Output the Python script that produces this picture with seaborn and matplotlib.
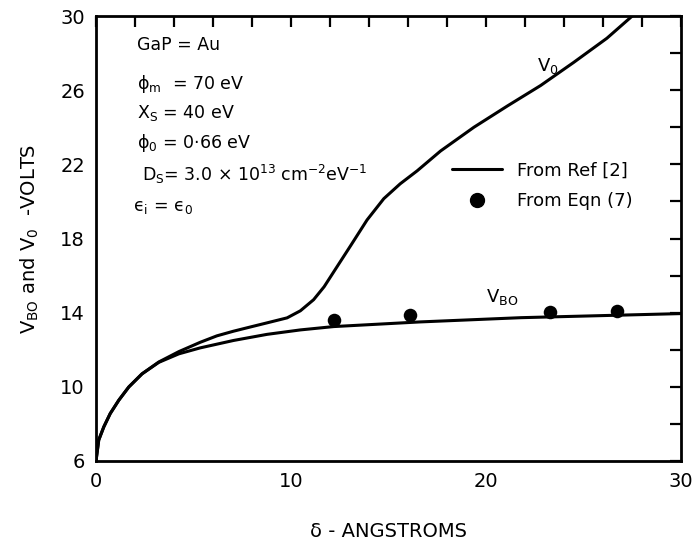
import numpy as np
import pandas as pd
import matplotlib
matplotlib.use("Agg")
import matplotlib.pyplot as plt
from matplotlib.ticker import MultipleLocator
from matplotlib.lines import Line2D
import seaborn as sns

# curve values (delta in Angstroms, volts)
v0_delta = [0.0, 0.14, 0.4, 0.73, 1.17, 1.68, 2.36, 3.22, 4.25, 5.34, 6.2,
            7.05, 8.0, 8.77, 9.8, 10.48, 11.16, 11.7, 12.19, 13.05, 13.9,
            14.76, 15.6, 16.47, 17.67, 19.38, 21.1, 22.8, 24.5, 26.2, 27.5]
v0_volts = [6.0, 7.13, 7.84, 8.56, 9.28, 9.99, 10.7, 11.34, 11.9, 12.4,
            12.75, 13.0, 13.25, 13.45, 13.72, 14.1, 14.7, 15.4, 16.2, 17.6,
            19.0, 20.15, 20.95, 21.65, 22.72, 24.0, 25.15, 26.25, 27.5, 28.8,
            30.0]

vbo_delta = [0.0, 0.14, 0.4, 0.73, 1.17, 1.68, 2.36, 3.22, 4.25, 5.34, 7.05,
             8.77, 10.48, 12.19, 16.6, 21.8, 30.0]
vbo_volts = [6.0, 7.13, 7.84, 8.56, 9.28, 9.99, 10.7, 11.32, 11.78, 12.1,
             12.5, 12.83, 13.07, 13.25, 13.5, 13.73, 13.95]

eqn_delta = [12.2, 16.1, 23.3, 26.7]
eqn_volts = [13.62, 13.9, 14.03, 14.08]

sns.set_style("white")
plt.rcParams['font.family'] = ['DejaVu Sans']
plt.rcParams['mathtext.default'] = 'regular'
plt.rcParams['text.color'] = 'black'
plt.rcParams['axes.labelcolor'] = 'black'
plt.rcParams['xtick.color'] = 'black'
plt.rcParams['ytick.color'] = 'black'

fig = plt.figure(figsize=(6.94, 5.40), dpi=100)
ax = fig.add_axes([96 / 694, 79 / 540, 585 / 694, 445 / 540])

v0 = pd.DataFrame({"delta": v0_delta, "volts": v0_volts})
vbo = pd.DataFrame({"delta": vbo_delta, "volts": vbo_volts})
eqn = pd.DataFrame({"delta": eqn_delta, "volts": eqn_volts})

sns.lineplot(data=v0, x="delta", y="volts", ax=ax, color="black", lw=2.2,
             sort=False, estimator=None)
sns.lineplot(data=vbo, x="delta", y="volts", ax=ax, color="black", lw=2.2,
             sort=False, estimator=None)
sns.scatterplot(data=eqn, x="delta", y="volts", ax=ax, color="black", s=95,
                edgecolor="black", linewidth=0, zorder=5)

ax.set_xlim(0, 30)
ax.set_ylim(6, 30)
ax.set_xticks([0, 10, 20, 30])
ax.xaxis.set_minor_locator(MultipleLocator(2))
ax.set_yticks([6, 10, 14, 18, 22, 26, 30])
ax.yaxis.set_minor_locator(MultipleLocator(2))
ax.tick_params(which="both", direction="in", top=True, right=True,
               width=1.6, color="black")
ax.tick_params(which="major", length=8, labelsize=14, pad=8)
ax.tick_params(which="minor", length=8)
for s in ax.spines.values():
    s.set_linewidth(2.0)
    s.set_color("black")

ax.set_xlabel("δ - ANGSTROMS", fontsize=14, labelpad=22)
ax.set_ylabel("V$_{BO}$ and V$_0$  -VOLTS", fontsize=14, labelpad=14)

# parameter block
fs = 12.5
ax.text(0.07, 0.935, "GaP = Au", transform=ax.transAxes, fontsize=fs, va="center")
ax.text(0.07, 0.847, "ϕ$_m$  = 70 eV", transform=ax.transAxes, fontsize=fs, va="center")
ax.text(0.07, 0.782, "X$_S$ = 40 eV", transform=ax.transAxes, fontsize=fs, va="center")
ax.text(0.07, 0.715, "ϕ$_0$ = 0·66 eV", transform=ax.transAxes, fontsize=fs, va="center")
ax.text(0.078, 0.643, "D$_S$= 3.0 × 10$^{13}$ cm$^{-2}$eV$^{-1}$",
        transform=ax.transAxes, fontsize=fs, va="center")
ax.text(0.063, 0.571, "ϵ$_i$ = ϵ$_0$", transform=ax.transAxes, fontsize=fs, va="center")

# curve labels
ax.text(22.6, 27.3, "V$_0$", fontsize=13, va="center")
ax.text(20.0, 14.85, "V$_{BO}$", fontsize=13, va="center")

handles = [Line2D([], [], color="black", lw=2.2),
           Line2D([], [], color="black", marker="o", ls="none", markersize=10)]
ax.legend(handles, ["From Ref [2]", "From Eqn (7)"], frameon=False,
          fontsize=13, loc="upper left", bbox_to_anchor=(0.58, 0.71),
          handlelength=2.8, handletextpad=0.8, labelspacing=0.7)

fig.savefig("out.png", dpi=100)
